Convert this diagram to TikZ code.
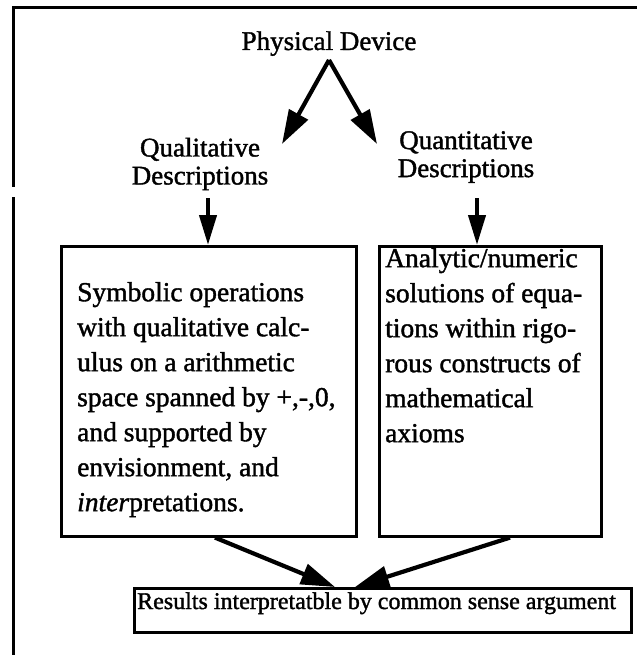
\documentclass[tikz,border=0pt]{standalone}
\usepackage{fontspec}
\setmainfont{Liberation Serif}[FakeBold=1.4]
\usetikzlibrary{arrows.meta,calc}
\begin{document}
\begin{tikzpicture}[x=1pt,y=-1pt,
  lbl/.style={inner sep=0pt, font=\fontsize{27}{28}\selectfont, align=center},
  boxtext/.style={inner sep=0pt, font=\fontsize{27.5}{35}\selectfont, align=left, anchor=north west},
  panel/.style={draw, line width=2.6pt, inner sep=0pt, anchor=north west},
  border/.style={line width=3pt},
  bigarrow/.style={line width=4.2pt, -{Triangle[length=34pt,width=21pt]}},
  smallarrow/.style={line width=4.2pt, -{Triangle[length=30pt,width=17pt]}}]
\useasboundingbox (0,0) rectangle (637,661);
% outer frame (top and left edges)
\draw[border] (12,8) -- (637,8);
\draw[border] (13,8) -- (13,187);
\draw[border] (13,197) -- (13,655);

% labels
\node[lbl, anchor=base] (pd) at (329,50) {Physical Device};
\node[lbl] (ql) at (200,164) {Qualitative\\Descriptions};
\node[lbl] (qn) at (466,157) {Quantitative\\Descriptions};

% boxes
\node[panel, minimum width=295pt, minimum height=290pt] (sym) at (60,245) {};
\node[panel, minimum width=222pt, minimum height=290pt] (ana) at (378,245) {};
\node[panel, minimum width=497pt, minimum height=44pt] (res) at (133,587) {};

\node[boxtext] (symtext) at (77,276.5) {\strut Symbolic operations\\
with qualitative calc-\\
ulus on a arithmetic\\
space spanned by +,-,0,\\
and supported by\\
envisionment, and\\
\textit{inter}pretations.};
\node[boxtext] (anatext) at (385,242.5) {\strut Analytic/numeric\\
solutions of equa-\\
tions within rigo-\\
rous constructs of\\
mathematical\\
axioms};
\node[inner sep=0pt, font=\fontsize{24}{28}\selectfont, anchor=base west] (restext) at (137,609)
  {Results interpretatble by common sense argument};

% connectors
\coordinate (apex) at (329,60);
\coordinate (tl) at (282,144);
\coordinate (tr) at (377,144);
\draw[bigarrow] (apex) -- (tl);
\draw[bigarrow] (apex) -- (tr);

\coordinate (qls) at (208,198);
\coordinate (qns) at (477,198);
\draw[smallarrow] (qls) -- (qls |- sym.north);
\draw[smallarrow] (qns) -- (qns |- ana.north);

\coordinate (sb) at ($(sym.south west)+(155,0)$);
\coordinate (ab) at ($(ana.south west)+(132,0)$);
\coordinate (r1) at ($(res.north west)+(202,0)$);
\coordinate (r2) at ($(res.north west)+(222,0)$);
\draw[bigarrow] (sb) -- (r1);
\draw[bigarrow] (ab) -- (r2);
\end{tikzpicture}
\end{document}
